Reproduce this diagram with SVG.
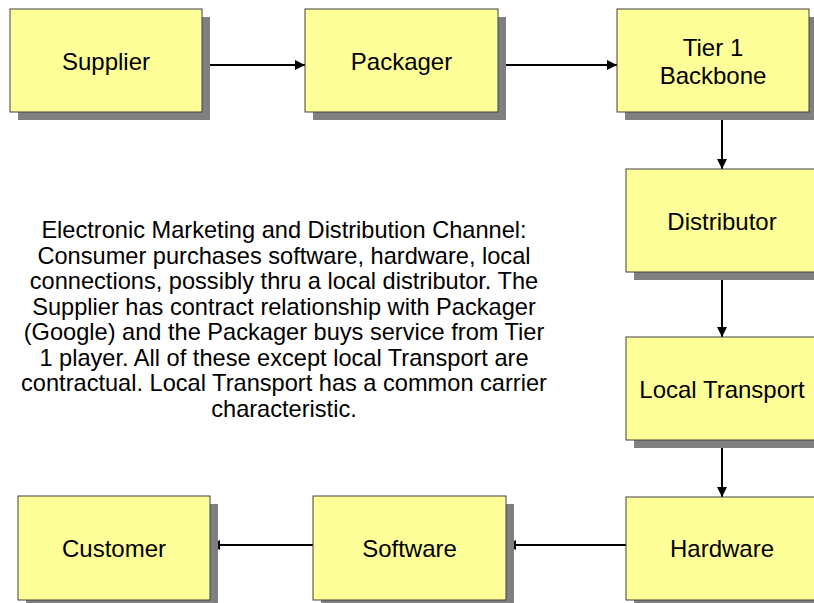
<svg xmlns="http://www.w3.org/2000/svg" width="814" height="603" viewBox="0 0 814 603">
  <defs>
    <style>
      .shadow { fill: #808080; }
      .box { fill: #FFFF99; stroke: #404040; stroke-width: 1; }
      .label { font-family: "Liberation Sans", Arial, sans-serif; font-size: 24px; fill: #000; text-anchor: middle; }
      .note { font-family: "Liberation Sans", Arial, sans-serif; font-size: 23.6px; fill: #000; text-anchor: middle; }
      .conn { stroke: #000; stroke-width: 2; fill: none; marker-end: url(#arrow); }
    </style>
    <marker id="arrow" viewBox="0 0 10 10" refX="10" refY="5" markerWidth="5" markerHeight="5" markerUnits="strokeWidth" orient="auto">
      <path d="M0,0 L10,5 L0,10 z" fill="#000"/>
    </marker>
  </defs>

  <rect width="814" height="603" fill="#fff"/>

  <!-- connectors -->
  <g id="connectors">
    <line class="conn" x1="202" y1="65" x2="305" y2="65"/>
    <line class="conn" x1="498" y1="65" x2="617" y2="65"/>
    <line class="conn" x1="722" y1="112" x2="722" y2="169"/>
    <line class="conn" x1="722" y1="272" x2="722" y2="337"/>
    <line class="conn" x1="722" y1="440" x2="722" y2="497"/>
    <line class="conn" x1="626" y1="545" x2="506" y2="545"/>
    <line class="conn" x1="313" y1="545" x2="210" y2="545"/>
  </g>

  <g id="supplier">
    <rect class="shadow" x="18" y="17" width="192" height="103"/>
    <rect class="box" x="10" y="9" width="192" height="103"/>
    <text class="label" x="106" y="70">Supplier</text>
  </g>

  <g id="packager">
    <rect class="shadow" x="313" y="17" width="193" height="103"/>
    <rect class="box" x="305" y="9" width="193" height="103"/>
    <text class="label" x="401.5" y="70">Packager</text>
  </g>

  <g id="tier1-backbone">
    <rect class="shadow" x="625" y="17" width="192" height="103"/>
    <rect class="box" x="617" y="9" width="192" height="103"/>
    <text class="label" x="713" y="56">Tier 1</text>
    <text class="label" x="713" y="84">Backbone</text>
  </g>

  <g id="distributor">
    <rect class="shadow" x="634" y="177" width="192" height="103"/>
    <rect class="box" x="626" y="169" width="192" height="103"/>
    <text class="label" x="722" y="230">Distributor</text>
  </g>

  <g id="local-transport">
    <rect class="shadow" x="634" y="345" width="192" height="103"/>
    <rect class="box" x="626" y="337" width="192" height="103"/>
    <text class="label" x="722" y="398">Local Transport</text>
  </g>

  <g id="hardware">
    <rect class="shadow" x="634" y="505" width="192" height="103"/>
    <rect class="box" x="626" y="497" width="192" height="103"/>
    <text class="label" x="722" y="557">Hardware</text>
  </g>

  <g id="software">
    <rect class="shadow" x="321" y="504" width="193" height="104"/>
    <rect class="box" x="313" y="496" width="193" height="104"/>
    <text class="label" x="409.5" y="557">Software</text>
  </g>

  <g id="customer">
    <rect class="shadow" x="26" y="504" width="192" height="104"/>
    <rect class="box" x="18" y="496" width="192" height="104"/>
    <text class="label" x="114" y="557">Customer</text>
  </g>

  <!-- description text -->
  <g id="description">
    <text class="note" x="284" y="238">Electronic Marketing and Distribution Channel:</text>
    <text class="note" x="284" y="263.5">Consumer purchases software, hardware, local</text>
    <text class="note" x="284" y="289">connections, possibly thru a local distributor. The</text>
    <text class="note" x="284" y="314.5">Supplier has contract relationship with Packager</text>
    <text class="note" x="284" y="340">(Google) and the Packager buys service from Tier</text>
    <text class="note" x="284" y="365.5">1 player. All of these except local Transport are</text>
    <text class="note" x="284" y="391">contractual. Local Transport has a common carrier</text>
    <text class="note" x="284" y="416.5">characteristic.</text>
  </g>
</svg>
